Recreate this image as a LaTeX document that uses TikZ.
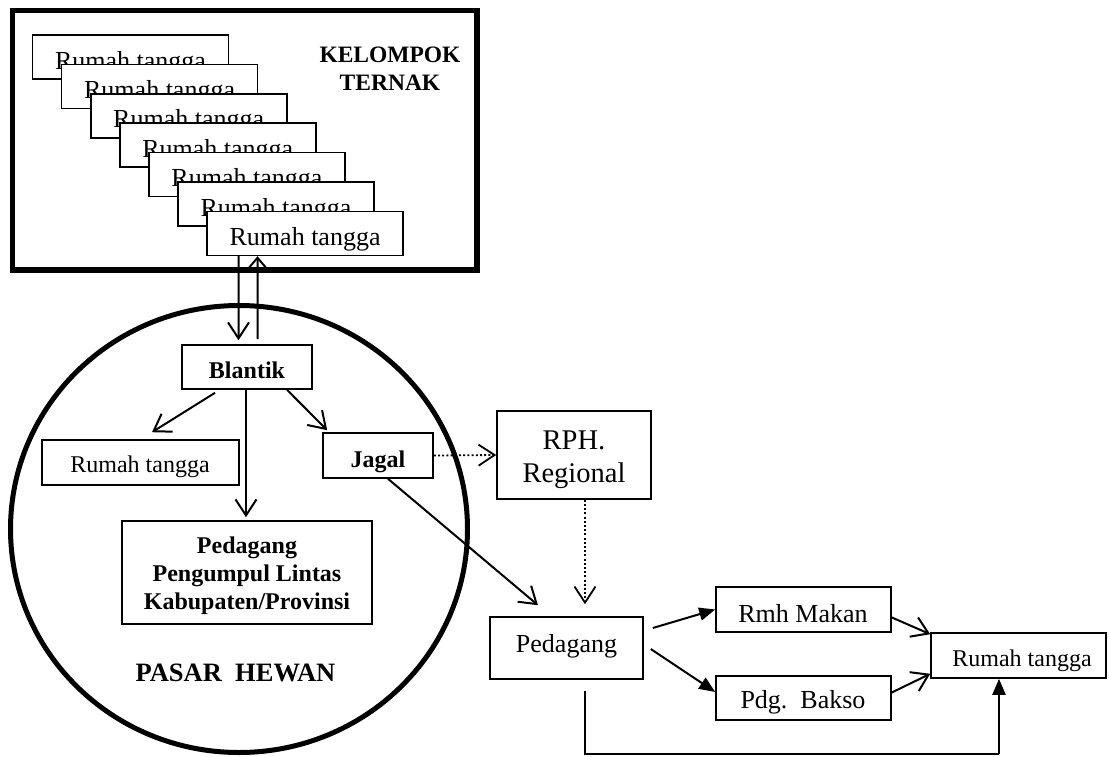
\documentclass[tikz,border=0pt]{standalone}
\usepackage{fontspec}
\setmainfont{Liberation Serif}
\usetikzlibrary{arrows.meta,calc,shapes.geometric}
\begin{document}
\begin{tikzpicture}[x=1pt,y=-1pt,
  box/.style={draw, line width=1.6pt, fill=white, inner sep=0pt},
  lbl/.style={anchor=base, inner sep=0pt},
  conn/.style={line width=2pt},
  vee/.style={-{Straight Barb[length=16pt,width=21pt]}},
  smallvee/.style={-{Straight Barb[length=10pt,width=17pt]}},
  fillarr/.style={-{Triangle[length=16pt,width=13pt]}},
  dots/.style={dash pattern=on 2pt off 2.2pt, line width=1.8pt},
  ]
\useasboundingbox (0,0) rectangle (1109,756);
% Kelompok ternak frame
\node[draw, line width=5.5pt, inner sep=0pt, minimum width=464.5pt, minimum height=259.5pt] (kt) at (244.75,140.25) {};
\node[inner sep=0pt, align=center, font=\fontsize{23.5}{27.5}\selectfont\bfseries] (ktT) at (390,68.75) {KELOMPOK\\TERNAK};
\foreach \i in {0,...,6} {
  \node[box, minimum width=196pt, minimum height=44pt] (b\i) at ({130.5+29.1*\i},{57+29.4*\i}) {};
  \node[lbl, font=\fontsize{26}{30}\selectfont] (bt\i) at ({130.5+29.1*\i},{69+29.4*\i}) {Rumah tangga};
}
% Pasar hewan
\node[ellipse, draw, line width=5pt, inner sep=0pt, minimum width=457pt, minimum height=447pt] (ph) at (239,529) {};
\node[lbl, font=\fontsize{26.5}{30}\selectfont\bfseries] (phT) at (235.5,681) {PASAR\ \ HEWAN};
\node[box, minimum width=130pt, minimum height=44pt] (bl) at (247,367) {};
\node[lbl, font=\fontsize{24}{28}\selectfont\bfseries] (blT) at (247,378) {Blantik};
\node[box, minimum width=197pt, minimum height=45pt] (rt0) at (140.5,462.5) {};
\node[lbl, font=\fontsize{24}{28}\selectfont] (rt0T) at (140,472) {Rumah tangga};
\node[box, minimum width=110pt, minimum height=45pt] (jg) at (378,455.5) {};
\node[lbl, font=\fontsize{24}{28}\selectfont\bfseries] (jgT) at (378,467) {Jagal};
\node[box, minimum width=250pt, minimum height=103pt] (pp) at (247,572.5) {};
\node[inner sep=0pt, align=center, font=\fontsize{24}{28}\selectfont\bfseries] (ppT) at (247,575.4) {Pedagang\\Pengumpul Lintas\\Kabupaten/Provinsi};
% right part
\node[box, minimum width=154pt, minimum height=88pt] (rph) at (574,455) {};
\node[inner sep=0pt, align=center, font=\fontsize{28.5}{33}\selectfont] (rphT) at (574,459.25) {RPH.\\Regional};
\node[box, minimum width=153pt, minimum height=62pt] (pd) at (566.5,648) {};
\node[lbl, font=\fontsize{26}{30}\selectfont] (pdT) at (566.5,652) {Pedagang};
\node[box, minimum width=175pt, minimum height=45pt] (rm) at (803.5,609.5) {};
\node[lbl, font=\fontsize{26}{30}\selectfont] (rmT) at (803,622) {Rmh Makan};
\node[box, minimum width=175pt, minimum height=44pt] (pb) at (803.5,698) {};
\node[lbl, font=\fontsize{26}{30}\selectfont] (pbT) at (803,708) {Pdg.\ \ Bakso};
\node[box, minimum width=175pt, minimum height=45pt] (rt) at (1018.5,655.5) {};
\node[lbl, font=\fontsize{24}{28}\selectfont] (rtT) at (1022,666) {Rumah tangga};
% connectors
\draw[conn, vee] ($(b6.south)+(-66.6,0)$) -- ($(bl.north)+(-8.5,-4)$);
\draw[conn, smallvee] ($(bl.north)+(10.5,-5)$) -- ($(b6.south)+(-47.6,0)$);
\draw[conn, vee] ($(bl.south)+(-32,3)$) -- ($(rt0.north)+(11.5,-7)$);
\draw[conn, vee] ($(bl.south)+(-1,0)$) -- ($(pp.north)+(-1,-3)$);
\draw[conn, vee] ($(bl.south)+(40,0)$) -- ($(jg.north west)+(5,-2)$);
\draw[dots, vee] (jg.east) -- (rph.west);
\draw[conn, vee] ($(jg.south)+(10,0)$) -- ($(pd.north)+(-28.5,-11)$);
\draw[dots, vee] ($(rph.south)+(11,0)$) -- ($(pd.north)+(18.5,-12)$);
\draw[conn, fillarr] ($(pd.east)+(9,-20)$) -- (rm.west);
\draw[conn, fillarr] ($(pd.east)+(7,1)$) -- ($(pb.west)+(0,-6)$);
\draw[conn, vee] ($(rm.east)+(-1,7.5)$) -- ($(rt.north west)+(0,2)$);
\draw[conn, vee] ($(pb.east)+(-1,-5)$) -- ($(rt.south west)+(0,-5)$);
\coordinate (low) at (0,754);
\coordinate (s) at ($(pd.south)+(18.5,11)$);
\coordinate (e) at ($(rt.south)+(-19.5,0)$);
\draw[line width=1.3pt] (s) -- (s |- low) -- (e |- low);
\draw[line width=2.2pt, fillarr] (e |- low) -- (e);
\end{tikzpicture}
\end{document}
